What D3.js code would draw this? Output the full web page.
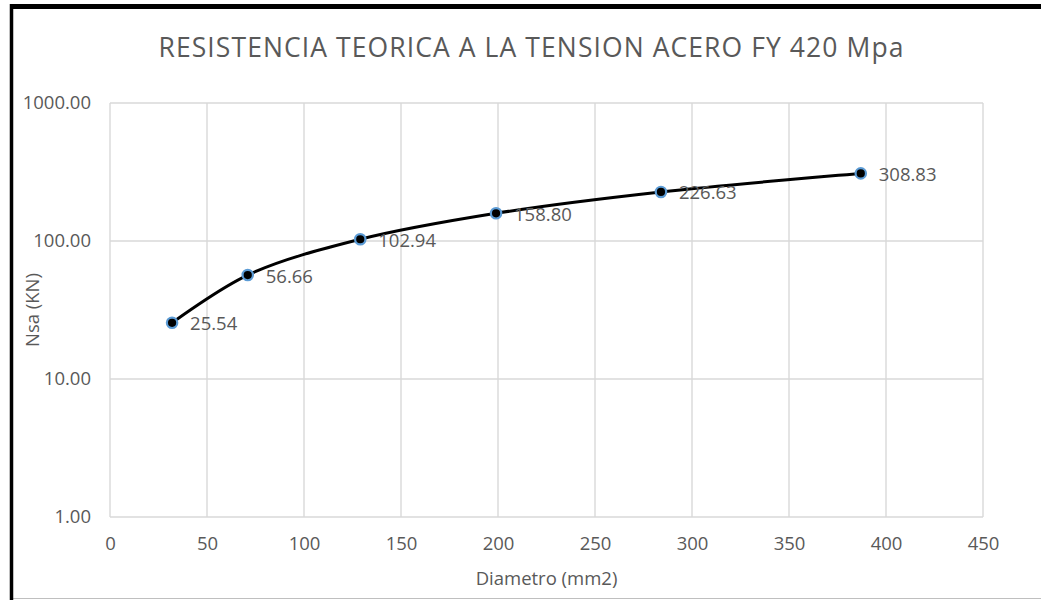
<!DOCTYPE html>
<html>
<head>
<meta charset="utf-8">
<script src="https://cdn.jsdelivr.net/npm/d3@7"></script>
<style>
	body { margin: 0; background: #fff; }
	svg { display: block; font-family: "Open Sans", sans-serif; }
</style>
</head>
<body>
<svg class="chart"></svg>
<script>
// chart data
var areas = [32, 71, 129, 199, 284, 387];
var fuerzas = [25.54, 56.66, 102.94, 158.80, 226.63, 308.83];
var xTicks = [0, 50, 100, 150, 200, 250, 300, 350, 400, 450];
var yTicks = [1, 10, 100, 1000];

var width = 1041, height = 600;
var margin = {top: 103, right: 58, bottom: 83, left: 110};

var svg = d3.select("svg.chart")
	.attr("width", width)
	.attr("height", height);

// frame around the picture
svg.append("rect").attr("x", 0).attr("y", 0).attr("width", width).attr("height", height).attr("fill", "#fff");
svg.append("line").attr("x1", 10).attr("x2", width).attr("y1", 598.5).attr("y2", 598.5)
	.attr("stroke", "#bfbfbf").attr("stroke-width", 1);
svg.append("line").attr("x1", 10).attr("x2", width).attr("y1", 6.5).attr("y2", 6.5)
	.attr("stroke", "#000").attr("stroke-width", 5);
svg.append("line").attr("x1", 11.5).attr("x2", 11.5).attr("y1", 4).attr("y2", height)
	.attr("stroke", "#000").attr("stroke-width", 3.5);

// scales
var x = d3.scaleLinear()
	.domain([0, 450])
	.range([margin.left, width - margin.right]);
var y = d3.scaleLog()
	.domain([1, 1000])
	.range([height - margin.bottom, margin.top]);

// gridlines
svg.append("g").selectAll("line")
	.data(xTicks).enter().append("line")
	.attr("x1", function(d) { return x(d); })
	.attr("x2", function(d) { return x(d); })
	.attr("y1", y(1000)).attr("y2", y(1))
	.attr("stroke", "#d9d9d9").attr("stroke-width", 1.4);
svg.append("g").selectAll("line")
	.data(yTicks).enter().append("line")
	.attr("x1", x(0)).attr("x2", x(450))
	.attr("y1", function(d) { return y(d); })
	.attr("y2", function(d) { return y(d); })
	.attr("stroke", "#d9d9d9").attr("stroke-width", 1.4);

// axes
var xAxis = d3.axisBottom(x).tickValues(xTicks).tickSize(0).tickPadding(20);
var gx = svg.append("g")
	.attr("transform", "translate(0," + y(1) + ")")
	.call(xAxis);
var yAxis = d3.axisLeft(y).tickValues(yTicks).tickSize(0).tickPadding(19).tickFormat(d3.format(".2f"));
var gy = svg.append("g")
	.attr("transform", "translate(" + x(0) + ",0)")
	.call(yAxis);
[gx, gy].forEach(function(g) {
	g.select(".domain").remove();
	g.selectAll("text")
		.attr("fill", "#595959")
		.style("font-size", "18.5px")
		.style("font-family", "'Open Sans', sans-serif");
});

// title
svg.append("text")
	.attr("x", 531).attr("y", 57)
	.attr("text-anchor", "middle")
	.attr("fill", "#595959")
	.style("font-size", "26.5px")
	.attr("textLength", 745)
	.attr("lengthAdjust", "spacing")
	.text("RESISTENCIA TEORICA A LA TENSION ACERO FY 420 Mpa");

// axis titles
svg.append("text")
	.attr("x", (x(0) + x(450)) / 2).attr("y", 585)
	.attr("text-anchor", "middle")
	.attr("fill", "#595959")
	.style("font-size", "18.5px")
	.text("Diametro (mm2)");
svg.append("text")
	.attr("transform", "translate(39," + (y(1) + y(1000)) / 2 + ") rotate(-90)")
	.attr("text-anchor", "middle")
	.attr("fill", "#595959")
	.style("font-size", "18.5px")
	.text("Nsa (KN)");

// smoothed line
var puntos = areas.map(function(a, i) { return {a: a, n: fuerzas[i]}; });
var line = d3.line()
	.x(function(d) { return x(d.a); })
	.y(function(d) { return y(d.n); })
	.curve(d3.curveCatmullRom.alpha(0.5));
svg.append("path")
	.datum(puntos)
	.attr("d", line)
	.attr("fill", "none")
	.attr("stroke", "#000")
	.attr("stroke-width", 3);

// markers
svg.append("g").selectAll("circle")
	.data(puntos).enter().append("circle")
	.attr("cx", function(d) { return x(d.a); })
	.attr("cy", function(d) { return y(d.n); })
	.attr("r", 5.2)
	.attr("fill", "#000")
	.attr("stroke", "#5b9bd5")
	.attr("stroke-width", 2.2);

// data labels
svg.append("g").selectAll("text")
	.data(puntos).enter().append("text")
	.attr("x", function(d) { return x(d.a) + 18; })
	.attr("y", function(d) { return y(d.n) + 7.5; })
	.attr("fill", "#595959")
	.style("font-size", "18.5px")
	.text(function(d) { return d3.format(".2f")(d.n); });
</script>
</body>
</html>
